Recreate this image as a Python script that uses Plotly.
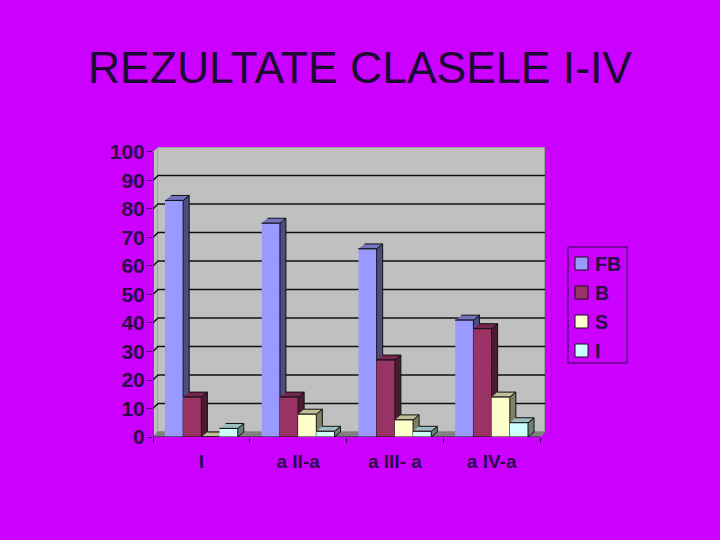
"""
Rezultate clasele I-IV: 3D look column chart
"""
import plotly.graph_objects as go

categories = ['I', 'a II-a', 'a III- a', 'a IV-a']
series_names = ['FB', 'B', 'S', 'I']
fb_values = [83, 75, 66, 41]
b_values = [14, 14, 27, 38]
s_values = [0, 8, 6, 14]
i_values = [3, 2, 2, 5]
y_ticks = [0, 10, 20, 30, 40, 50, 60, 70, 80, 90, 100]

BG = '#cc00ff'
INK = '#2a0a4a'
FONT = 'Liberation Sans'

# front, side, top colours per series
colors = {
    'FB': ('#9999ff', '#4d4d80', '#7373bf'),
    'B': ('#993366', '#4d1a33', '#732650'),
    'S': ('#ffffcc', '#808066', '#bfbf99'),
    'I': ('#ccffff', '#668080', '#99bfbf'),
}
all_values = [fb_values, b_values, s_values, i_values]

# pixel sizes of the fake depth, turned into axis units
X_PX = 96.75
Y_PX = 2.86
wall_dx = 5 / X_PX
wall_dy = 5 / Y_PX
bar_dx = 6 / X_PX
bar_dy = 5 / Y_PX
bar_w = 18.2 / X_PX

x_min = -0.5
x_max = 3.5 + wall_dx
y_max = 100 + wall_dy


def poly(xs, ys, fill, line='#101010', width=1):
    return go.Scatter(x=xs, y=ys, mode='lines', fill='toself', fillcolor=fill,
                      line={'color': line, 'width': width}, showlegend=False,
                      hoverinfo='skip', cliponaxis=False)


fig = go.Figure()

# walls and floor
fig.add_trace(poly([x_min, x_min + wall_dx, x_min + wall_dx, x_min],
                   [0, wall_dy, y_max, 100], '#c0c0c0', '#808080'))
fig.add_trace(poly([x_min + wall_dx, x_max, x_max, x_min + wall_dx],
                   [wall_dy, wall_dy, y_max, y_max], '#c0c0c0', '#808080'))
fig.add_trace(poly([x_min, x_max - wall_dx, x_max, x_min + wall_dx],
                   [0, 0, wall_dy, wall_dy], '#808080', '#808080'))

# gridlines, with the short diagonal on the left wall
grid_x, grid_y = [], []
for t in y_ticks[1:-1]:
    grid_x += [x_min, x_min + wall_dx, x_max, None]
    grid_y += [t, t + wall_dy, t + wall_dy, None]
fig.add_trace(go.Scatter(x=grid_x, y=grid_y, mode='lines', showlegend=False,
                         line={'color': '#101010', 'width': 1.4}, hoverinfo='skip'))

# axis lines
fig.add_trace(go.Scatter(x=[x_min, x_min, None, x_min, x_max - wall_dx],
                         y=[100, 0, None, 0, 0], mode='lines', showlegend=False,
                         line={'color': INK, 'width': 1.2}, hoverinfo='skip', cliponaxis=False))

# bars, left to right so the next front hides the previous side
for c in range(len(categories)):
    for s, name in enumerate(series_names):
        v = all_values[s][c]
        left = c + (s - 2) * bar_w
        right = left + bar_w
        front, side, top = colors[name]
        fig.add_trace(poly([right, right + bar_dx, right + bar_dx, right],
                           [0, bar_dy, v + bar_dy, v], side))
        fig.add_trace(poly([left, right, right + bar_dx, left + bar_dx],
                           [v, v, v + bar_dy, v + bar_dy], top))
        fig.add_trace(poly([left, right, right, left], [0, 0, v, v], front))

fig.update_layout(
    width=720,
    height=540,
    autosize=False,
    margin={'l': 153, 'r': 175, 't': 147, 'b': 103, 'pad': 0},
    paper_bgcolor=BG,
    plot_bgcolor=BG,
    showlegend=False,
    font={'family': FONT, 'color': INK},
    title={'text': 'REZULTATE CLASELE I-IV', 'x': 0.5, 'xanchor': 'center',
           'y': 0.875, 'yanchor': 'middle',
           'font': {'family': FONT, 'size': 44.5, 'color': '#1c0a33'}},
    xaxis={
        'range': [x_min, x_max],
        'tickvals': list(range(len(categories))),
        'ticktext': categories,
        'ticks': 'outside',
        'ticklen': 7,
        'tickcolor': 'rgba(0,0,0,0)',
        'tickfont': {'family': FONT, 'size': 19, 'weight': 'bold', 'color': INK},
        'showgrid': False,
        'zeroline': False,
        'showline': False,
        'minor': {'tickvals': [-0.5, 0.5, 1.5, 2.5, 3.5], 'ticks': 'outside', 'ticklen': 5,
                  'tickcolor': INK, 'showgrid': False},
    },
    yaxis={
        'range': [0, y_max],
        'tickvals': y_ticks,
        'ticks': 'outside',
        'ticklen': 5,
        'tickcolor': INK,
        'ticklabelstandoff': -2,
        'tickfont': {'family': FONT, 'size': 21, 'weight': 'bold', 'color': INK},
        'showgrid': False,
        'zeroline': False,
        'showline': False,
    },
)

# legend box drawn by hand, plotly's own swatch spacing is too wide here
fig.add_shape(type='rect', xref='paper', yref='paper',
              x0=(568 - 153) / 392, x1=(627 - 153) / 392,
              y0=(437 - 363) / 290, y1=(437 - 247) / 290,
              line={'color': INK, 'width': 1}, fillcolor=BG)
for s, name in enumerate(series_names):
    yc = 263.5 + s * 29
    fig.add_shape(type='rect', xref='paper', yref='paper',
                  x0=(575 - 153) / 392, x1=(588 - 153) / 392,
                  y0=(437 - yc - 6.5) / 290, y1=(437 - yc + 6.5) / 290,
                  line={'color': '#101010', 'width': 1}, fillcolor=colors[name][0])
    fig.add_annotation(text=name, xref='paper', yref='paper', showarrow=False,
                       x=(593 - 153) / 392, y=(437 - yc) / 290, xanchor='left', yanchor='middle',
                       font={'family': FONT, 'size': 19.5, 'weight': 'bold', 'color': INK})

# the browser's default body margin would leave a white frame
fig.write_html('out.html', config={'displayModeBar': False},
               post_script="document.body.style.margin='0';")
